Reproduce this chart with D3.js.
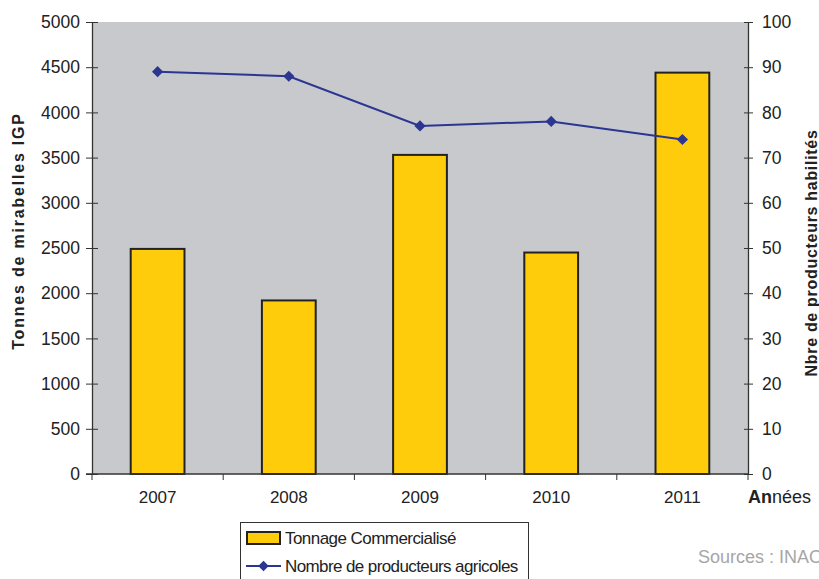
<!DOCTYPE html>
<html>
<head>
<meta charset="utf-8">
<script src="https://cdn.jsdelivr.net/npm/d3@7"></script>
<style>
  html, body { margin: 0; padding: 0; background: #fff; }
  svg { display: block; font-family: Arial, "Liberation Sans", sans-serif; }
</style>
</head>
<body>
<svg id="chart" width="819" height="579"></svg>
<script>
// Annual figures for IGP mirabelles
const years = ["2007", "2008", "2009", "2010", "2011"];
const tonnage = [2490, 1920, 3530, 2450, 4440];
const producers = [89, 88, 77, 78, 74];
const leftTicks = [0, 500, 1000, 1500, 2000, 2500, 3000, 3500, 4000, 4500, 5000];
const rightTicks = [0, 10, 20, 30, 40, 50, 60, 70, 80, 90, 100];

const svg = d3.select("#chart");
const plot = { left: 92, right: 748, top: 22, bottom: 474 };

const x = d3.scaleBand().domain(years).range([plot.left, plot.right]);
const yL = d3.scaleLinear().domain([0, 5000]).range([plot.bottom, plot.top]);
const yR = d3.scaleLinear().domain([0, 100]).range([plot.bottom, plot.top]);

const textColor = "#222";
const barFill = "#fecc0a";
const lineColor = "#2b3592";

// plot background
svg.append("rect")
  .attr("x", plot.left).attr("y", plot.top)
  .attr("width", plot.right - plot.left).attr("height", plot.bottom - plot.top)
  .attr("fill", "#c8c9cd");

// bars
const barW = x.bandwidth() * 0.41;
svg.append("g").selectAll("rect")
  .data(years)
  .join("rect")
  .attr("x", (d) => x(d) + x.bandwidth() / 2 - barW / 2)
  .attr("y", (d, i) => yL(tonnage[i]))
  .attr("width", barW)
  .attr("height", (d, i) => plot.bottom - yL(tonnage[i]))
  .attr("fill", barFill)
  .attr("stroke", "#222")
  .attr("stroke-width", 2);

// left axis
const gL = svg.append("g").attr("transform", `translate(${plot.left},0)`)
  .call(d3.axisLeft(yL).tickValues(leftTicks).tickFormat(d3.format("d"))
    .tickSize(6).tickSizeOuter(0).tickPadding(6));
gL.select(".domain").attr("stroke", "#333").attr("stroke-width", 1.3);
gL.selectAll(".tick line").attr("stroke", "#333").attr("x2", 6).attr("x1", -6);
gL.selectAll(".tick text").attr("font-size", 17.5).attr("fill", textColor).attr("x", -12);

// right axis
const gR = svg.append("g").attr("transform", `translate(${plot.right},0)`)
  .call(d3.axisRight(yR).tickValues(rightTicks).tickSize(5).tickSizeOuter(0).tickPadding(6));
gR.select(".domain").attr("stroke", "#333").attr("stroke-width", 1.3);
gR.selectAll(".tick line").attr("stroke", "#333").attr("x1", -4).attr("x2", 5);
gR.selectAll(".tick text").attr("font-size", 17.5).attr("fill", textColor).attr("x", 14);

// bottom axis: ticks between categories
const gB = svg.append("g").attr("transform", `translate(0,${plot.bottom})`);
gB.append("line")
  .attr("x1", plot.left - 6).attr("x2", plot.right)
  .attr("stroke", "#333").attr("stroke-width", 1.3);
const boundaries = years.map((d) => x(d)).concat([plot.right]);
gB.selectAll("line.tk").data(boundaries).join("line")
  .attr("class", "tk")
  .attr("x1", (d) => d).attr("x2", (d) => d)
  .attr("y1", 0).attr("y2", 6)
  .attr("stroke", "#333").attr("stroke-width", 1);
gB.selectAll("text").data(years).join("text")
  .attr("x", (d) => x(d) + x.bandwidth() / 2)
  .attr("y", 29)
  .attr("text-anchor", "middle")
  .attr("font-size", 17)
  .attr("fill", textColor)
  .text((d) => d);

// producers line
const line = d3.line()
  .x((d, i) => x(years[i]) + x.bandwidth() / 2)
  .y((d) => yR(d));
svg.append("path")
  .datum(producers)
  .attr("d", line)
  .attr("fill", "none")
  .attr("stroke", lineColor)
  .attr("stroke-width", 2);
svg.append("g").selectAll("path")
  .data(producers)
  .join("path")
  .attr("d", d3.symbol(d3.symbolDiamond2 || d3.symbolDiamond, 80))
  .attr("transform", (d, i) => `translate(${x(years[i]) + x.bandwidth() / 2},${yR(d)})`)
  .attr("fill", lineColor);

// axis titles
svg.append("text")
  .attr("transform", "translate(24,231) rotate(-90)")
  .attr("text-anchor", "middle")
  .attr("font-size", 16).attr("font-weight", "bold").attr("fill", textColor)
  .attr("letter-spacing", 1.8)
  .text("Tonnes de mirabelles IGP");
svg.append("text")
  .attr("transform", "translate(817,253) rotate(-90)")
  .attr("text-anchor", "middle")
  .attr("font-size", 16).attr("font-weight", "bold").attr("fill", textColor)
  .attr("letter-spacing", 0.7)
  .text("Nbre de producteurs habilités");
const ann = svg.append("text")
  .attr("x", 748).attr("y", 503)
  .attr("font-size", 18).attr("fill", textColor);
ann.append("tspan").attr("font-weight", "bold").text("An");
ann.append("tspan").text("nées");

// legend
const lg = svg.append("g");
lg.append("rect")
  .attr("x", 240.5).attr("y", 522.5).attr("width", 288).attr("height", 70)
  .attr("fill", "#fff").attr("stroke", "#333").attr("stroke-width", 1);
lg.append("rect")
  .attr("x", 247).attr("y", 532).attr("width", 33).attr("height", 12)
  .attr("fill", barFill).attr("stroke", "#222").attr("stroke-width", 2);
lg.append("text").attr("x", 285).attr("y", 544)
  .attr("font-size", 17).attr("fill", textColor).attr("letter-spacing", -0.55)
  .text("Tonnage Commercialisé");
lg.append("line")
  .attr("x1", 246).attr("x2", 281).attr("y1", 566).attr("y2", 566)
  .attr("stroke", lineColor).attr("stroke-width", 2);
lg.append("path")
  .attr("d", d3.symbol(d3.symbolDiamond2 || d3.symbolDiamond, 70))
  .attr("transform", "translate(263.5,566)")
  .attr("fill", lineColor);
lg.append("text").attr("x", 285).attr("y", 572)
  .attr("font-size", 17).attr("fill", textColor).attr("letter-spacing", -0.6)
  .text("Nombre de producteurs agricoles");

// source note
svg.append("text")
  .attr("x", 698).attr("y", 563)
  .attr("font-size", 18).attr("fill", "#a6a6a6")
  .text("Sources : INAO");
</script>
</body>
</html>
